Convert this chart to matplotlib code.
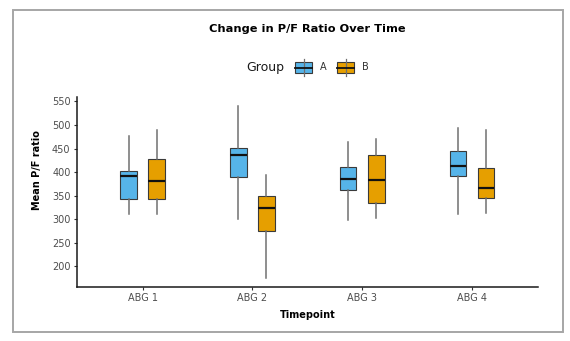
import matplotlib
matplotlib.use("Agg")
import matplotlib.pyplot as plt
from matplotlib.patches import Rectangle
from matplotlib.lines import Line2D
import numpy as np

# Timepoints and five-number summaries for each group
timepoints = ["ABG 1", "ABG 2", "ABG 3", "ABG 4"]
groups = ["A", "B"]

a_whislo = [312, 300, 299, 312]
a_q1 = [343, 390, 361, 391]
a_med = [391, 437, 385, 413]
a_q3 = [402, 452, 411, 445]
a_whishi = [476, 541, 464, 493]

b_whislo = [310, 175, 303, 313]
b_q1 = [343, 275, 334, 344]
b_med = [380, 323, 384, 366]
b_q3 = [428, 350, 436, 408]
b_whishi = [490, 394, 470, 490]

y_ticks = [200, 250, 300, 350, 400, 450, 500, 550]

colors = {"A": "#56B4E9", "B": "#E69F00"}
edge = "#3a3a3a"
whisker_col = "#707070"
text_grey = "#4d4d4d"

W, H = 570, 341
fig = plt.figure(figsize=(W / 100, H / 100), dpi=100)
fig.patch.set_facecolor("white")

# Outer frame around the whole figure
fig.add_artist(Rectangle((13 / W, 1 - 331.5 / H), (563 - 13) / W, (331.5 - 9.5) / H,
                         transform=fig.transFigure, fill=False,
                         edgecolor="#a6a6a6", linewidth=1.4))

left, right, top, bottom = 76.7, 538, 97, 286.7
ax = fig.add_axes([left / W, 1 - bottom / H, (right - left) / W, (bottom - top) / H])

summaries = {
    "A": (a_whislo, a_q1, a_med, a_q3, a_whishi),
    "B": (b_whislo, b_q1, b_med, b_q3, b_whishi),
}
offsets = {"A": -0.128, "B": 0.128}
x = np.arange(1, len(timepoints) + 1)

for g in groups:
    lo, q1, med, q3, hi = summaries[g]
    stats = [dict(whislo=lo[i], q1=q1[i], med=med[i], q3=q3[i], whishi=hi[i], fliers=[])
             for i in range(len(timepoints))]
    ax.bxp(stats, positions=x + offsets[g], widths=0.15, patch_artist=True,
           showcaps=False, showfliers=False,
           boxprops=dict(facecolor=colors[g], edgecolor=edge, linewidth=0.8),
           medianprops=dict(color="#111111", linewidth=1.6),
           whiskerprops=dict(color=whisker_col, linewidth=1.1),
           manage_ticks=False, zorder=3)

ax.set_xlim(0.4, 4.6)
ax.set_ylim(156.7, 559.3)
ax.set_xticks(x)
ax.set_xticklabels(timepoints)
ax.set_yticks(y_ticks)
ax.tick_params(axis="both", labelsize=7, colors="#333333", labelcolor=text_grey,
               length=2.5, width=0.8, pad=2)
for s in ["top", "right"]:
    ax.spines[s].set_visible(False)
for s in ["left", "bottom"]:
    ax.spines[s].set_linewidth(1.1)
    ax.spines[s].set_color("#1a1a1a")

ax.set_xlabel("Timepoint", fontsize=7, fontweight="bold", labelpad=5)
fig.text(37 / W, 1 - 170 / H, "Mean P/F ratio", rotation=90, fontsize=7,
         fontweight="bold", ha="center", va="center")

fig.text(307 / W, 1 - 28.5 / H, "Change in P/F Ratio Over Time", fontsize=8.2,
         fontweight="bold", ha="center", va="center")

# Legend drawn as mini box glyphs next to the "Group" title
fig.text(265 / W, 1 - 67.5 / H, "Group", fontsize=9, ha="center", va="center",
         color="#1a1a1a")
key_pos = {"A": 295, "B": 337}
for g in groups:
    kx = key_pos[g]
    kw, kh = 17, 11
    ky_top = 62
    fig.add_artist(Line2D([(kx + kw / 2) / W] * 2, [1 - 59 / H, 1 - 76 / H],
                          transform=fig.transFigure, color=whisker_col, linewidth=0.9))
    fig.add_artist(Rectangle((kx / W, 1 - (ky_top + kh) / H), kw / W, kh / H,
                             transform=fig.transFigure, facecolor=colors[g],
                             edgecolor=edge, linewidth=0.8))
    fig.add_artist(Line2D([kx / W, (kx + kw) / W], [1 - (ky_top + kh / 2) / H] * 2,
                          transform=fig.transFigure, color="#111111", linewidth=1.3))
    fig.text((kx + kw + 8) / W, 1 - 67.5 / H, g, fontsize=7, ha="left", va="center",
             color="#333333")

fig.savefig("out.png", dpi=100)
